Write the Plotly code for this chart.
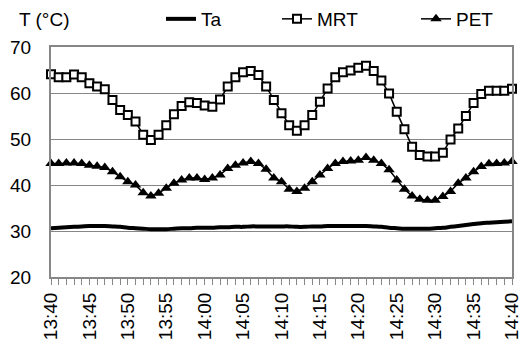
import plotly.graph_objects as go

# minutes after 13:40
minutes = list(range(0, 61))
tick_vals = list(range(0, 61, 5))
tick_labels = ["13:40", "13:45", "13:50", "13:55", "14:00", "14:05", "14:10",
               "14:15", "14:20", "14:25", "14:30", "14:35", "14:40"]

ta = [30.6, 30.7, 30.8, 30.9, 31.0, 31.1, 31.1, 31.1, 31.0, 30.9,
      30.7, 30.6, 30.5, 30.4, 30.4, 30.4, 30.5, 30.6, 30.6, 30.7,
      30.7, 30.7, 30.8, 30.8, 30.9, 30.9, 31.0, 31.0, 31.0, 31.0,
      31.0, 31.0, 30.9, 30.9, 31.0, 31.0, 31.1, 31.1, 31.1, 31.1,
      31.1, 31.1, 31.0, 30.9, 30.7, 30.6, 30.5, 30.5, 30.5, 30.5,
      30.6, 30.7, 30.9, 31.1, 31.3, 31.5, 31.7, 31.8, 31.9, 32.0, 32.1]

mrt = [64.1, 63.4, 63.4, 64.0, 63.4, 62.1, 61.4, 60.8, 58.5, 56.3,
       55.2, 53.8, 50.9, 49.8, 50.9, 53.0, 55.4, 57.2, 58.0, 57.8,
       57.3, 57.0, 58.6, 61.4, 63.4, 64.5, 64.8, 63.9, 61.4, 58.5,
       55.6, 53.0, 51.8, 53.0, 55.2, 58.1, 61.0, 63.4, 64.5, 64.9,
       65.5, 65.9, 64.8, 62.7, 59.9, 55.9, 52.1, 48.3, 46.5, 46.2,
       46.2, 47.0, 49.9, 52.3, 55.0, 57.8, 59.8, 60.5, 60.5, 60.5, 60.9]

pet = [44.7, 44.7, 44.8, 44.8, 44.7, 44.3, 44.1, 43.8, 42.9, 41.8,
       40.7, 40.0, 38.3, 37.6, 38.2, 39.3, 40.4, 41.1, 41.5, 41.5,
       41.2, 41.5, 42.2, 43.6, 44.3, 44.8, 45.1, 44.7, 43.4, 41.5,
       40.7, 39.1, 38.6, 39.3, 40.7, 42.2, 43.6, 44.7, 45.1, 45.2,
       45.4, 46.0, 45.4, 44.7, 43.3, 41.1, 39.1, 37.6, 36.9, 36.7,
       36.7, 37.5, 38.6, 40.4, 41.5, 42.9, 44.0, 44.6, 44.7, 44.8, 45.1]

FONT = "Arial, Liberation Sans, sans-serif"
GRAY = "#878787"

fig = go.Figure()
fig.add_trace(go.Scatter(x=minutes, y=ta, name="Ta", mode="lines",
                         line=dict(color="black", width=4, shape="spline"),
                         showlegend=True, legend="legend"))
fig.add_trace(go.Scatter(x=minutes, y=mrt, name="MRT", mode="lines+markers",
                         line=dict(color="black", width=1.5),
                         marker=dict(symbol="square", size=8, color="white",
                                     line=dict(color="black", width=2)),
                         cliponaxis=False, showlegend=True, legend="legend2"))
fig.add_trace(go.Scatter(x=minutes, y=pet, name="PET", mode="lines+markers",
                         line=dict(color="black", width=1.5),
                         marker=dict(symbol="triangle-up", size=10, color="black"),
                         cliponaxis=False, showlegend=True, legend="legend3"))

def px_x(p):
    return (p - 51) / 461.0

def px_y(p):
    return (277 - p) / 230.0

leg_common = dict(orientation="h", yanchor="middle", xanchor="left",
                  font=dict(family=FONT, size=19, color="black"),
                  bgcolor="rgba(0,0,0,0)", borderwidth=0)

fig.update_layout(
    width=521, height=342,
    showlegend=True,
    margin=dict(l=51, r=9, t=47, b=65, autoexpand=False),
    plot_bgcolor="white", paper_bgcolor="white",
    font=dict(family=FONT, size=19, color="black"),
    legend=dict(x=px_x(161), y=px_y(19), **leg_common),
    legend2=dict(x=px_x(277), y=px_y(19), **leg_common),
    legend3=dict(x=px_x(416), y=px_y(19), **leg_common),
    xaxis=dict(range=[0, 60], tickvals=tick_vals, ticktext=tick_labels,
               tickangle=-90, ticks="outside", ticklen=6, tickcolor=GRAY,
               ticklabeloverflow="allow",
               showline=True, linecolor=GRAY, linewidth=2, mirror=True,
               showgrid=False, zeroline=False,
               tickfont=dict(family=FONT, size=19, color="black"),
               minor=dict(dtick=1, ticks="outside", ticklen=6, tickcolor=GRAY)),
    yaxis=dict(range=[20, 70], dtick=10, showline=True, linecolor=GRAY,
               linewidth=2, mirror=True, showgrid=True, gridcolor=GRAY,
               gridwidth=1, zeroline=False, ticks="",
               ticklabelstandoff=14, ticklabeloverflow="allow",
               tickfont=dict(family=FONT, size=19, color="black")),
    annotations=[dict(text="T (°C)", xref="paper", yref="paper",
                      x=px_x(17), y=px_y(19), xanchor="left", yanchor="middle",
                      showarrow=False,
                      font=dict(family=FONT, size=19, color="black"))],
)

fig.write_html("out.html", config={"displayModeBar": False},
               post_script="document.body.style.margin='0';document.body.style.overflow='hidden';")
